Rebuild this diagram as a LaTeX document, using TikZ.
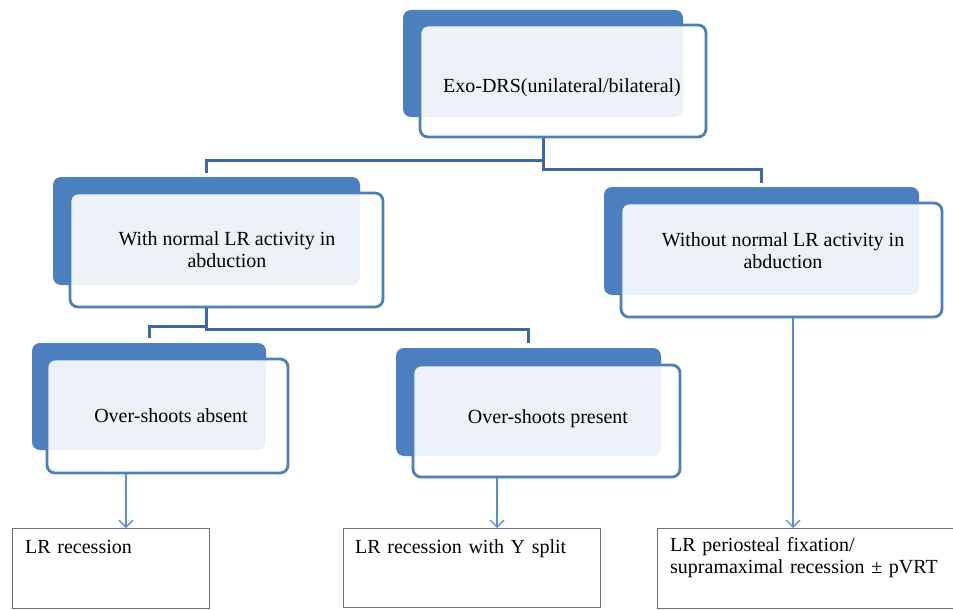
\documentclass[tikz,border=0pt]{standalone}
\usepackage{fontspec}
\setmainfont{Liberation Serif}
\usepackage{xcolor}
\usepackage{tikz}
\usetikzlibrary{arrows.meta}
\definecolor{boxblue}{RGB}{76,127,189}
\definecolor{linkblue}{RGB}{60,104,166}
\definecolor{arrowblue}{RGB}{88,142,208}
\definecolor{resgray}{RGB}{110,110,110}

\begin{document}
\begin{tikzpicture}[x=1pt,y=-1pt]
  \tikzstyle{every node}=[font=\fontsize{20}{22}\selectfont]
  \tikzstyle{back}=[fill=boxblue,rounded corners=8pt,inner sep=0pt]
  \tikzstyle{front}=[draw=boxblue,line width=2.8pt,fill=white,fill opacity=0.9,rounded corners=8pt,inner sep=0pt]
  \tikzstyle{boxtext}=[align=center,text=black]
  \tikzstyle{result}=[draw=resgray,line width=1.2pt,inner sep=0pt,anchor=north west]
  \tikzstyle{restext}=[anchor=base west,align=left,inner sep=0pt,text width=280pt,text=black]
  \tikzstyle{link}=[draw=linkblue,line width=3pt]
  \tikzstyle{pointer}=[draw=arrowblue,line width=1.4pt,-{Straight Barb[length=7pt,width=14pt]}]
  \useasboundingbox (0,0) rectangle (953,610);
  \fill[white] (0,0) rectangle (953,610);
  % top level
  \node[back,minimum width=280pt,minimum height=107pt] (exoB) at (543,63.5) {};
  \node[front,minimum width=286pt,minimum height=112pt] (exo) at (563,81) {};
  \node[boxtext] (exoT) at (562,88) {Exo-DRS(unilateral/bilateral)};
  % second level
  \node[back,minimum width=307pt,minimum height=108pt] (withB) at (206.5,231) {};
  \node[front,minimum width=313pt,minimum height=114pt] (with) at (226.5,250) {};
  \node[boxtext] (withT) at (227,250) {With normal LR activity in\\abduction};
  \node[back,minimum width=315pt,minimum height=108pt] (withoutB) at (761.5,241) {};
  \node[front,minimum width=321pt,minimum height=114pt] (without) at (781.5,260) {};
  \node[boxtext] (withoutT) at (783,251) {Without normal LR activity in\\abduction};
  % third level
  \node[back,minimum width=234pt,minimum height=107pt] (absB) at (149,396.5) {};
  \node[front,minimum width=241pt,minimum height=114pt] (abs) at (167.5,416) {};
  \node[boxtext] (absT) at (171,416) {Over-shoots absent};
  \node[back,minimum width=265pt,minimum height=108pt] (presB) at (528.5,402) {};
  \node[front,minimum width=267pt,minimum height=112pt] (pres) at (546.5,421) {};
  \node[boxtext] (presT) at (548,419) {Over-shoots present};
  % procedures
  \node[result,minimum width=197pt,minimum height=80pt] (r1) at (12,528) {};
  \node[restext] (r1T) at (25,553) {LR recession};
  \node[result,minimum width=257pt,minimum height=79pt] (r2) at (343,528) {};
  \node[restext] (r2T) at (355,553) {LR recession with Y split};
  \node[result,minimum width=297pt,minimum height=80pt] (r3) at (657,528) {};
  \node[restext] (r3T) at (670,551) {LR periosteal fixation/\\supramaximal recession ± pVRT};
  \coordinate (r1in) at (126,528);
  \coordinate (r2in) at (497,528);
  \coordinate (r3in) at (793,528);
  % connectors
  \draw[link] (exoB.center |- exo.south) -- ++(0,22) -| ([yshift=4pt]withB.north);
  \draw[link] (exoB.center |- exo.south) -- ++(0,31) -| ([yshift=4pt]withoutB.north);
  \draw[link] (withB.center |- with.south) -- ++(0,18) -| ([yshift=5pt]absB.north);
  \draw[link] (withB.center |- with.south) -- ++(0,21) -| ([yshift=5pt]presB.north);
  \draw[pointer] (abs.south -| r1in) -- (r1in);
  \draw[pointer] (pres.south -| r2in) -- (r2in);
  \draw[pointer] (without.south -| r3in) -- (r3in);
\end{tikzpicture}
\end{document}
